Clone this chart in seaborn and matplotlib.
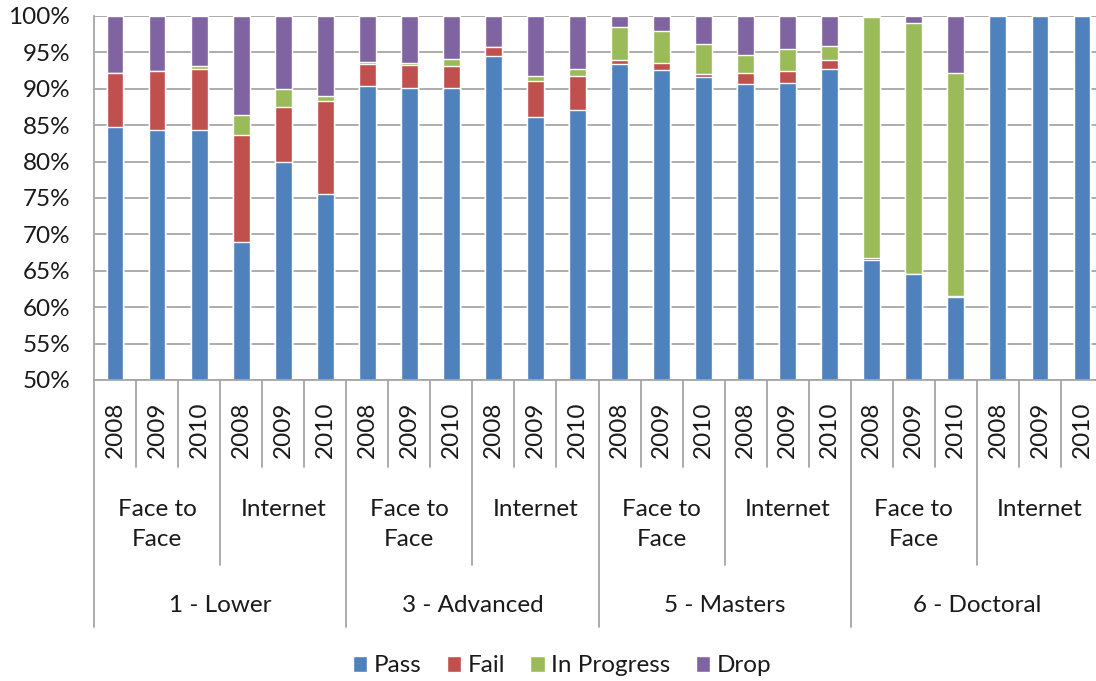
"""Pass / Fail / In Progress / Drop shares by level, delivery mode and year
(100% stacked columns, Excel-style multi-level category axis)."""
import numpy as np
import pandas as pd
import matplotlib
matplotlib.use("Agg")
import matplotlib.pyplot as plt
from matplotlib.patches import Patch
import seaborn as sns

levels = ["1 - Lower", "3 - Advanced", "5 - Masters", "6 - Doctoral"]
modes = ["Face to\nFace", "Internet"]
years = ["2008", "2009", "2010"]

# one value per bar, ordered level -> mode -> year
pass_pct = [84.8, 84.4, 84.4, 68.9, 79.9, 75.6,
            90.4, 90.1, 90.1, 94.5, 86.1, 87.1,
            93.4, 92.6, 91.6, 90.6, 90.8, 92.7,
            66.5, 64.5, 61.4, 100.0, 100.0, 100.0]
fail_pct = [7.4, 8.1, 8.3, 14.8, 7.6, 12.7,
            3.0, 3.2, 3.0, 1.2, 5.0, 4.7,
            0.5, 1.0, 0.4, 1.6, 1.7, 1.2,
            0.2, 0.0, 0.2, 0.0, 0.0, 0.0]
inprog_pct = [0.0, 0.0, 0.4, 2.7, 2.5, 0.7,
              0.3, 0.3, 1.0, 0.0, 0.6, 0.9,
              4.6, 4.4, 4.2, 2.5, 3.0, 2.0,
              33.1, 34.6, 30.6, 0.0, 0.0, 0.0]
drop_pct = [7.8, 7.5, 6.9, 13.6, 10.0, 11.0,
            6.3, 6.4, 5.9, 4.3, 8.3, 7.3,
            1.5, 2.0, 3.8, 5.3, 4.5, 4.1,
            0.2, 0.9, 7.8, 0.0, 0.0, 0.0]

series = ["Pass", "Fail", "In Progress", "Drop"]
colors = {"Pass": "#4F81BD", "Fail": "#C0504D",
          "In Progress": "#9BBB59", "Drop": "#8064A2"}

rows = []
for lev in levels:
    for mode in modes:
        for yr in years:
            rows.append({"level": lev, "mode": mode, "year": yr,
                         "slot": f"{lev}|{mode}|{yr}"})
df = pd.DataFrame(rows)
df["Pass"] = pass_pct
df["Fail"] = fail_pct
df["In Progress"] = inprog_pct
df["Drop"] = drop_pct

# stack: cumulative tops, drawn from the tallest layer down
cum = df[series].cumsum(axis=1)

sns.set_style("white")
plt.rcParams["font.family"] = ["Lato", "DejaVu Sans"]
FS = 17.5
plt.rcParams["font.size"] = FS
txt_c = "#1a1a1a"

W, H = 1096, 681
fig = plt.figure(figsize=(W / 100, H / 100), dpi=100)
x0, x1, y_top, y_bot = 94, 1103, 16, 380
ax = fig.add_axes([x0 / W, 1 - y_bot / H, (x1 - x0) / W, (y_bot - y_top) / H])

order = df["slot"].tolist()
for s in reversed(series):
    sns.barplot(x=df["slot"], y=cum[s], order=order, color=colors[s],
                saturation=1, width=0.4, ax=ax, errorbar=None)

grid_c = "#A6A6A6"
ax.set_ylim(50, 100)
ax.set_xlim(-0.5, len(df) - 0.5)
ax.set_yticks(np.arange(50, 101, 5))
ax.set_yticklabels([f"{v}%" for v in range(50, 101, 5)])
ax.yaxis.grid(True, color=grid_c, lw=1.3)
ax.set_axisbelow(True)
ax.tick_params(axis="y", length=6, width=1.3, color=grid_c, pad=11,
               labelsize=FS, labelcolor=txt_c)
ax.set_xticks([])
ax.set_xlabel("")
ax.set_ylabel("")
for side in ("top", "right"):
    ax.spines[side].set_visible(False)
for side in ("left", "bottom"):
    ax.spines[side].set_color(grid_c)
    ax.spines[side].set_linewidth(1.3)

# multi-level category axis below the plot
ph = y_bot - y_top
tr = ax.get_xaxis_transform()


def ay(px):
    return (y_bot - px) / ph


n = len(df)
for k in range(n + 1):
    xb = k - 0.5
    if k % 6 == 0:
        depth = 627
    elif k % 3 == 0:
        depth = 565
    else:
        depth = 467
    ax.plot([xb, xb], [0, ay(depth)], transform=tr, color=grid_c,
            lw=1.3, clip_on=False)

for i, yr in enumerate(df["year"]):
    ax.text(i, ay(430), yr, transform=tr, rotation=90, ha="center",
            va="center", fontsize=FS, color=txt_c)

for li, lev in enumerate(levels):
    for mi, mode in enumerate(modes):
        xc = li * 6 + mi * 3 + 1
        ax.text(xc, ay(499), mode, transform=tr, ha="center", va="top",
                fontsize=FS, linespacing=1.5, color=txt_c)
    ax.text(li * 6 + 2.5, ay(606), lev, transform=tr, ha="center",
            va="center", fontsize=FS, color=txt_c)

handles = [Patch(facecolor=colors[s], label=s) for s in series]
fig.legend(handles=handles, loc="center", bbox_to_anchor=(562 / W, 1 - 666 / H),
           ncol=4, frameon=False, fontsize=FS, handlelength=0.6,
           handleheight=0.6, handletextpad=0.25, columnspacing=1.05,
           labelcolor=txt_c)

fig.savefig("out.png", dpi=100)
